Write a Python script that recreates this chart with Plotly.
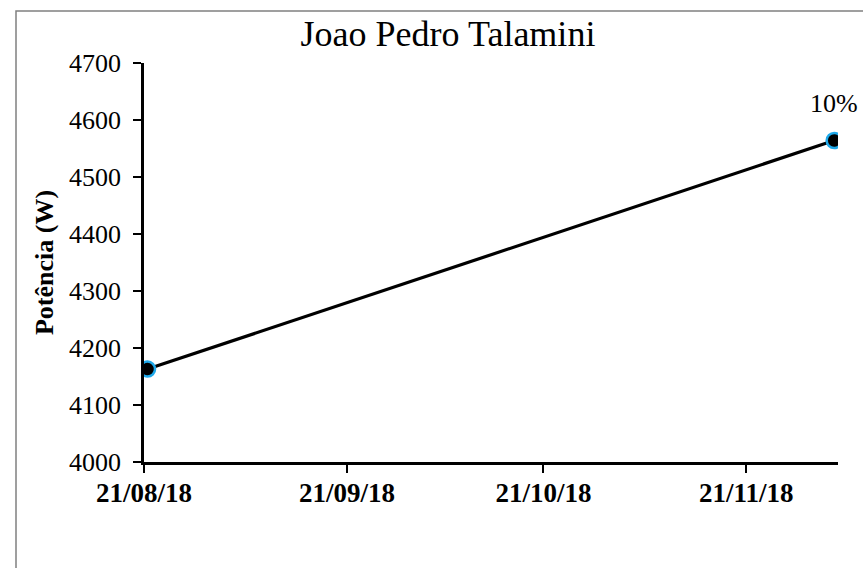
import plotly.graph_objects as go

# ---- data ----
dates = ["2018-08-21 13:00", "2018-12-04 10:00"]
potencia = [4163, 4564]
point_labels = ["", "10%"]
x_tick_vals = ["2018-08-21", "2018-09-21", "2018-10-21", "2018-11-21"]
x_tick_text = ["21/08/18", "21/09/18", "21/10/18", "21/11/18"]
x_range = ["2018-08-21", "2018-12-05"]
y_range = [4000, 4700]

title_text = "Joao Pedro Talamini"
y_title = "Potência (W)"

SERIF = "Liberation Serif, Times New Roman, serif"

fig = go.Figure()
fig.add_trace(go.Scatter(
    x=dates, y=potencia, mode="lines+markers",
    line=dict(color="black", width=3.2),
    marker=dict(size=15, color="black", line=dict(color="#1FA9EA", width=2.5)),
    showlegend=False, hoverinfo="skip",
))

for xd, yv, lab in zip(dates, potencia, point_labels):
    if lab:
        fig.add_annotation(x=xd, y=yv, text=lab, showarrow=False,
                           yshift=37, font=dict(family=SERIF, size=26, color="black"))

W, H = 863, 568
L, R, T, B = 144, 25, 63, 106
pw, ph = W - L - R, H - T - B

fig.add_shape(type="rect", xref="paper", yref="paper",
              x0=(16 - L) / pw, x1=(W + 20 - L) / pw,
              y0=-(H + 20 - (H - B)) / ph, y1=((H - B) - 11) / ph,
              line=dict(color="#808080", width=1.5), fillcolor="rgba(0,0,0,0)", layer="below")

fig.update_layout(
    width=W, height=H,
    margin=dict(l=L, r=R, t=T, b=B, pad=0),
    paper_bgcolor="white", plot_bgcolor="white",
    title=dict(text=title_text, x=448 / W, xanchor="center", xref="container",
               y=1 - 33 / H, yref="container", yanchor="middle",
               font=dict(family=SERIF, size=36, color="black")),
    font=dict(family=SERIF, color="black"),
)
fig.update_xaxes(
    type="date", range=x_range, tickvals=x_tick_vals, ticktext=x_tick_text,
    showgrid=False, zeroline=False, showline=True, linecolor="black", linewidth=2.5,
    ticks="outside", ticklen=8, tickwidth=2, tickcolor="black",
    tickfont=dict(family=SERIF, size=27, color="black", weight="bold"),
    ticklabelstandoff=-3,
)
fig.update_yaxes(
    range=y_range, dtick=100, tick0=4000,
    showgrid=False, zeroline=False, showline=True, linecolor="black", linewidth=2.5,
    ticks="outside", ticklen=8, tickwidth=2, tickcolor="black",
    tickfont=dict(family=SERIF, size=26, color="black"),
    ticklabelstandoff=7,
    title=dict(text=y_title, standoff=8,
               font=dict(family=SERIF, size=26, color="black", weight="bold")),
)

fig.write_html("out.html", config={"displayModeBar": False},
               post_script="document.body.style.margin='0';document.body.style.overflow='hidden';")
